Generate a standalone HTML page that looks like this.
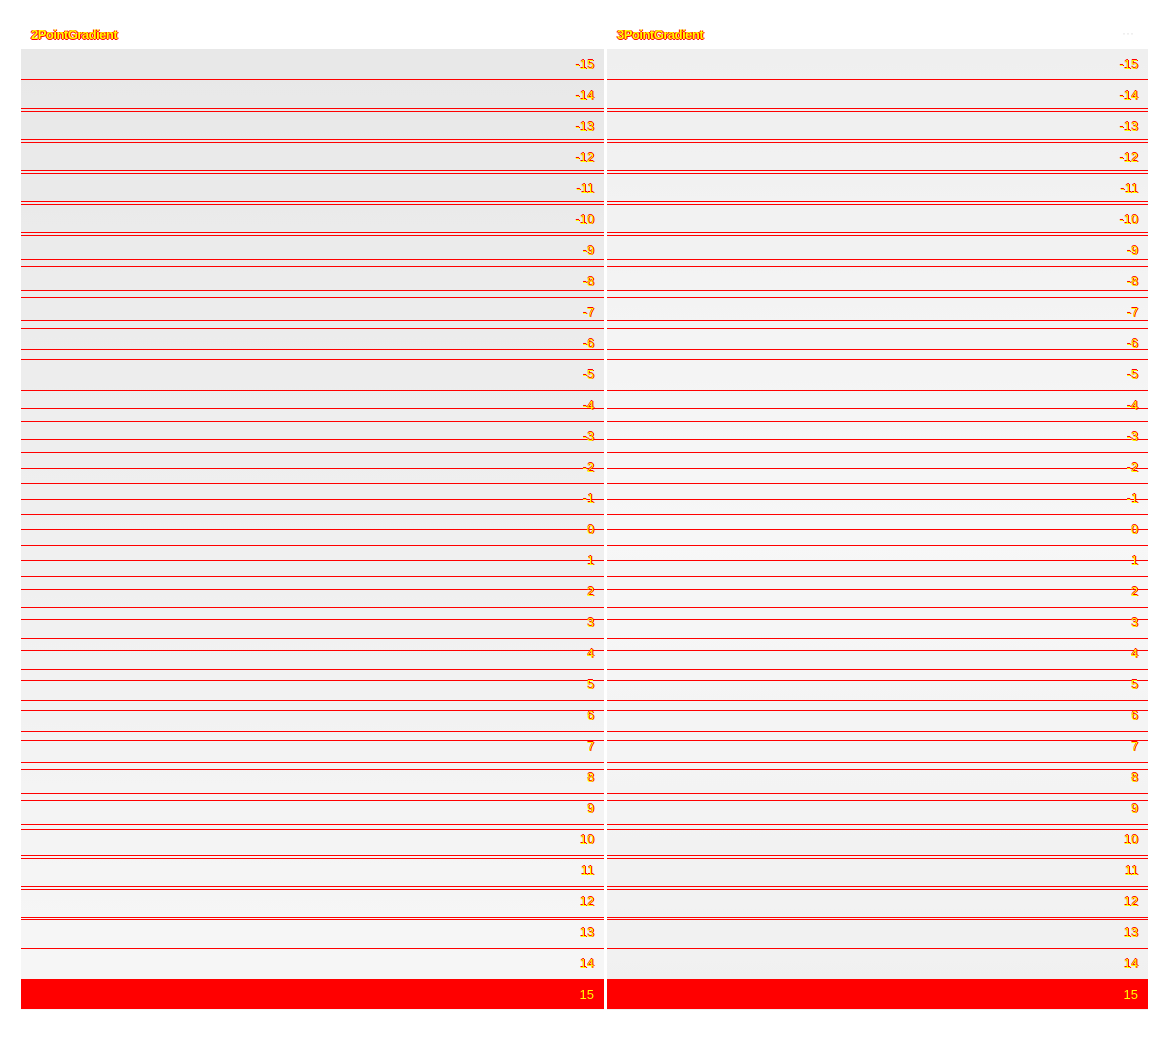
<!DOCTYPE html>
<html><head><meta charset="utf-8"><style>
body{margin:0;background:#fff;width:1170px;height:1040px;position:relative;overflow:hidden;font-family:"Liberation Sans",sans-serif}
.t{position:absolute;font-size:13px;font-weight:bold;color:#ff0;text-shadow:1px 0 0 #f00,-1px 0 0 #f00,0 1px 0 #f00;letter-spacing:-0.5px}
.col{position:absolute;top:49px;height:961px}
.ln{position:absolute;height:1px;background:#f00}
.lab{position:absolute;font-size:13px;color:#ff0;text-shadow:1px 0 0 #f00,0 -1px 0 #f00;text-align:right;width:40px;line-height:13px}
</style></head><body>
<div class="t" style="left:31px;top:27px">2PointGradient</div>
<div class="t" style="left:617px;top:27px">3PointGradient</div>
<div style="position:absolute;left:1122px;top:26px;color:#ddd;font-size:12px">···</div>
<div id="left" class="col" style="left:21px;width:583px;background:linear-gradient(#e8e8e8,#f7f7f7)"></div>
<div id="right" class="col" style="left:607px;width:541px;background:linear-gradient(#efefef,#f7f7f7 50%,#f0f0f0)"></div>
<script>
const values=[-15,-14,-13,-12,-11,-10,-9,-8,-7,-6,-5,-4,-3,-2,-1,0,1,2,3,4,5,6,7,8,9,10,11,12,13,14,15];
const lineA=[79,108,139,170,201,232,259,290,320,349,390,421,452,483,514,545,576,607,638,669,700,731,762,793,824,855,886,917,948];
const lineB=[79,111,142,173,204,235,266,297,328,359,408,439,468,499,529,560,589,619,650,680,710,740,769,800,829,858,889,919,948];
const top0=49,rowH=31;
function rowY(i){return top0+i*rowH;}
[['left',21,583],['right',607,541]].forEach(([id,x0,w])=>{
  const col=document.getElementById(id);
  [lineA,lineB].forEach(arr=>arr.forEach(y=>{
    const d=document.createElement('div');d.className='ln';
    
    
    d.style.left='0';d.style.width=w+'px';d.style.top=(y-top0)+'px';col.appendChild(d);
  }));
  values.forEach((v,i)=>{
    const y=rowY(i);
    if(i===values.length-1){
      const r=document.createElement('div');
      
      
      r.style.cssText='position:absolute;left:0;width:'+w+'px;top:'+(y-top0)+'px;height:30px;background:#f00';
      col.appendChild(r);
    }
    const t=document.createElement('div');t.className='lab';
    
    
    t.textContent=v;t.style.left=(w-50)+'px';t.style.top=(y-top0+9)+'px';
    col.appendChild(t);
  });
});
</script>
</body></html>
